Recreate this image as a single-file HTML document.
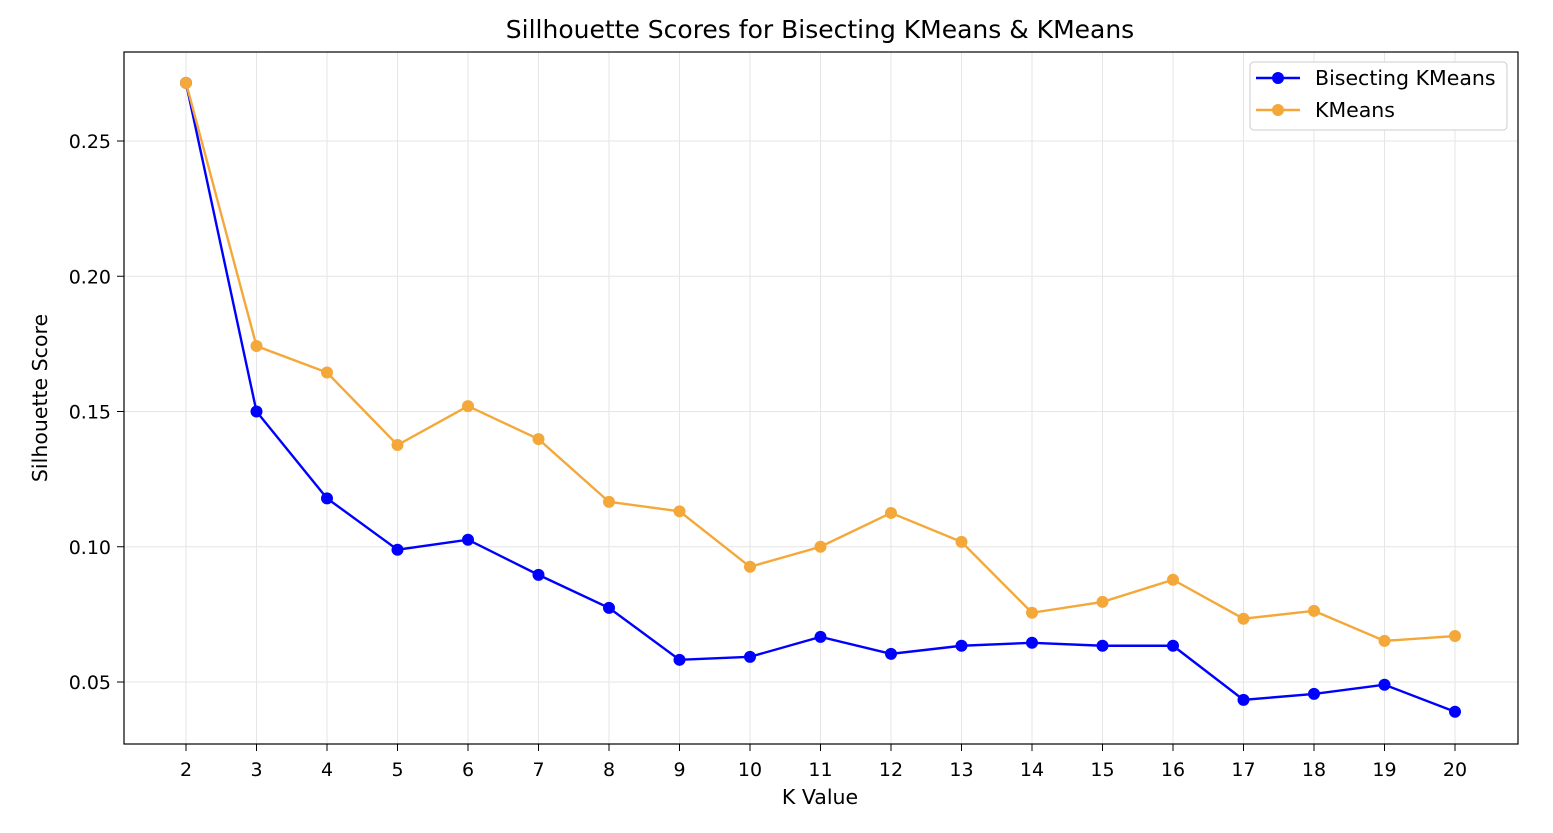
<!DOCTYPE html>
<html><head><meta charset="utf-8"><style>
body{margin:0;background:#fff;font-family:"Liberation Sans","DejaVu Sans",sans-serif}
svg text{font-family:"DejaVu Sans","Liberation Sans",sans-serif}
</style></head><body>
<svg id="chart" width="1553" height="828" xmlns="http://www.w3.org/2000/svg">
<text x="820" y="38" text-anchor="middle" font-size="25" fill="#000">Sillhouette Scores for Bisecting KMeans &amp; KMeans</text>
<text x="820" y="804" text-anchor="middle" font-size="20.5">K Value</text>
<text transform="translate(47,398) rotate(-90)" text-anchor="middle" font-size="20.5">Silhouette Score</text>
<g id="grid"></g><g id="ticks"></g><g id="series"></g>
<rect x="124" y="52" width="1394" height="692" fill="none" stroke="#000" stroke-width="1.2"/>
<g>
<rect x="1250" y="62" width="257" height="68" rx="4" fill="#fff" stroke="#ccc"/>
<g>
<line x1="1256" y1="78" x2="1300" y2="78" stroke="#0000ff" stroke-width="2.4"/><circle cx="1278" cy="78" r="6" fill="#0000ff"/>
<text x="1315" y="85" font-size="20.5">Bisecting KMeans</text></g>
<g>
<line x1="1256" y1="110" x2="1300" y2="110" stroke="#f4a83a" stroke-width="2.4"/><circle cx="1278" cy="110" r="6" fill="#f4a83a"/>
<text x="1315" y="117" font-size="20.5">KMeans</text></g>
</g>
</svg>
<script>
const kValues=[2,3,4,5,6,7,8,9,10,11,12,13,14,15,16,17,18,19,20];
const bisecting=[0.2715,0.150,0.1179,0.0989,0.1026,0.0896,0.0774,0.0582,0.0593,0.0667,0.0604,0.0634,0.0645,0.0634,0.0634,0.0434,0.0456,0.049,0.039];
const kmeans=[0.2715,0.1742,0.1644,0.1376,0.152,0.1398,0.1166,0.1131,0.0926,0.10,0.1125,0.1018,0.0756,0.0796,0.0878,0.0734,0.0763,0.0652,0.067];
const yTicks=[0.05,0.10,0.15,0.20,0.25];
const NS='http://www.w3.org/2000/svg';
const xs=k=>186+(k-2)*(1455-186)/18;
const ys=v=>682-(v-0.05)*(682-141)/0.20;
function mk(t,a,p){const e=document.createElementNS(NS,t);for(const k in a)e.setAttribute(k,a[k]);p.appendChild(e);return e;}
const grid=document.getElementById('grid'),ticks=document.getElementById('ticks'),ser=document.getElementById('series');
kValues.forEach(k=>{const x=xs(k);
const g=mk('line',{x1:x,x2:x,y1:52,y2:744,stroke:'#e6e6e6','stroke-width':1},grid);


mk('line',{x1:x,x2:x,y1:744,y2:751,stroke:'#000'},ticks);
const t=mk('text',{x:x,y:776,'text-anchor':'middle','font-size':19},ticks);t.textContent=k;

});
yTicks.forEach(v=>{const y=ys(v);
const g=mk('line',{x1:124,x2:1518,y1:y,y2:y,stroke:'#e6e6e6','stroke-width':1},grid);


mk('line',{x1:117,x2:124,y1:y,y2:y,stroke:'#000'},ticks);
const t=mk('text',{x:111,y:y+7,'text-anchor':'end','font-size':19},ticks);t.textContent=v.toFixed(2);

});
function draw(vals,color,name){
const pts=kValues.map((k,i)=>xs(k)+','+ys(vals[i])).join(' ');
const l=mk('polyline',{points:pts,fill:'none',stroke:color,'stroke-width':2.4},ser);


kValues.forEach((k,i)=>{const c=mk('circle',{cx:xs(k),cy:ys(vals[i]),r:6,fill:color},ser);

});}
draw(bisecting,'#0000ff','bisecting');
draw(kmeans,'#f4a83a','kmeans');
</script>
</body></html>
